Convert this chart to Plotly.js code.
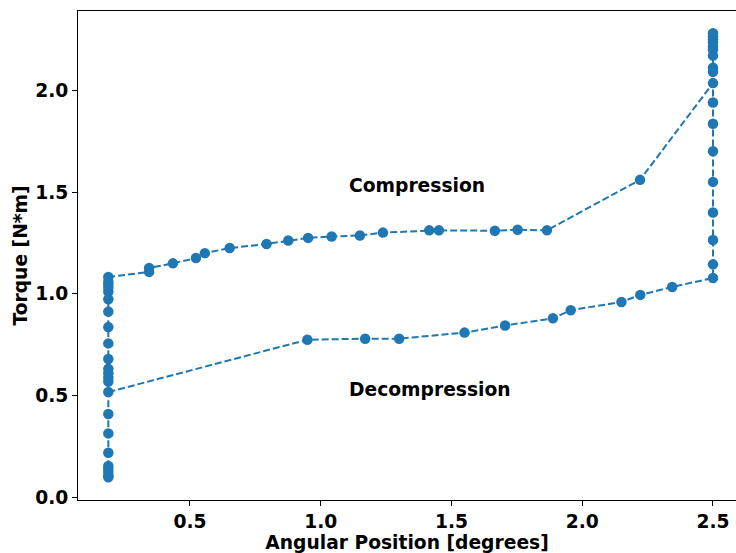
<!DOCTYPE html>
<html>
<head>
<meta charset="utf-8">
<script src="https://cdn.plot.ly/plotly-3.0.1.min.js"></script>
<style>
  html, body { margin: 0; padding: 0; background: #fff; }
  #chart { width: 736px; height: 553px; }
</style>
</head>
<body>
<div id="chart"></div>
<script>
// Stick-slip torque loop: rise at the left stop, compression slide,
// rise at the right stop, drop, then decompression slide back.
const leftStopX = 0.188;
const rightStopX = 2.5;

// Torque readings at the left stop (rising)
const leftStopTorque = [0.10, 0.11, 0.125, 0.14, 0.155, 0.22, 0.315, 0.41,
  0.57, 0.59, 0.61, 0.632, 0.68, 0.757, 0.837, 0.913, 0.974,
  1.01, 1.03, 1.045, 1.06, 1.083];

// Compression slide
const compressionAngle = [0.344, 0.344, 0.435, 0.523, 0.557, 0.652, 0.793,
  0.876, 0.952, 1.042, 1.15, 1.238, 1.415, 1.452, 1.666, 1.753, 1.865, 2.221];
const compressionTorque = [1.108, 1.127, 1.15, 1.176, 1.20, 1.225, 1.245,
  1.262, 1.275, 1.282, 1.287, 1.301, 1.312, 1.312, 1.31, 1.315, 1.312, 1.56];

// Torque readings at the right stop (rising, then falling)
const rightStopRise = [2.035, 2.09, 2.11, 2.17, 2.20, 2.215, 2.235, 2.25, 2.265, 2.28];
const rightStopFall = [1.94, 1.835, 1.70, 1.55, 1.40, 1.265, 1.145, 1.078];

// Decompression slide
const decompressionAngle = [2.344, 2.222, 2.15, 1.956, 1.888, 1.705, 1.55,
  1.30, 1.17, 0.949];
const decompressionTorque = [1.034, 0.995, 0.96, 0.92, 0.88, 0.845, 0.81,
  0.78, 0.78, 0.775];
const endTorque = 0.518;

const xs = [], ys = [];
leftStopTorque.forEach(t => { xs.push(leftStopX); ys.push(t); });
compressionAngle.forEach((a, i) => { xs.push(a); ys.push(compressionTorque[i]); });
rightStopRise.forEach(t => { xs.push(rightStopX); ys.push(t); });
rightStopFall.forEach(t => { xs.push(rightStopX); ys.push(t); });
decompressionAngle.forEach((a, i) => { xs.push(a); ys.push(decompressionTorque[i]); });
xs.push(leftStopX); ys.push(endTorque);

const blue = '#1f77b4';
const font = { family: 'DejaVu Sans', size: 18.7, color: '#000', weight: 'bold' };

const trace = {
  x: xs, y: ys,
  type: 'scatter',
  mode: 'lines+markers',
  line: { color: blue, width: 2, dash: '7px,3px' },
  marker: { color: blue, size: 10.5 },
  hoverinfo: 'skip'
};

const layout = {
  width: 736, height: 553,
  margin: { l: 78, r: 0, t: 11, b: 53 },
  paper_bgcolor: '#fff', plot_bgcolor: '#fff',
  showlegend: false,
  font: font,
  xaxis: {
    range: [0.072, 2.588],
    tickvals: [0.5, 1.0, 1.5, 2.0, 2.5],
    tickformat: '.1f',
    ticks: 'outside', ticklen: 5, tickwidth: 1, tickcolor: '#000',
    showline: true, linecolor: '#000', linewidth: 1, mirror: true,
    showgrid: false, zeroline: false,
    tickfont: font,
    title: { text: 'Angular Position [degrees]', font: font, standoff: 2 },
    automargin: false
  },
  yaxis: {
    range: [-0.012, 2.389],
    tickvals: [0.0, 0.5, 1.0, 1.5, 2.0],
    tickformat: '.1f',
    ticks: 'outside', ticklen: 5, tickwidth: 1, tickcolor: '#000',
    showline: true, linecolor: '#000', linewidth: 1,
    showgrid: false, zeroline: false,
    tickfont: font,
    title: { text: 'Torque [N*m]', font: font, standoff: 2 },
    automargin: false
  },
  annotations: [
    { x: 1.1, y: 1.53, xref: 'x', yref: 'y', text: 'Compression',
      showarrow: false, xanchor: 'left', yanchor: 'middle', font: font },
    { x: 1.1, y: 0.53, xref: 'x', yref: 'y', text: 'Decompression',
      showarrow: false, xanchor: 'left', yanchor: 'middle', font: font }
  ]
};

Plotly.newPlot('chart', [trace], layout, { displayModeBar: false, staticPlot: true });
</script>
</body>
</html>
